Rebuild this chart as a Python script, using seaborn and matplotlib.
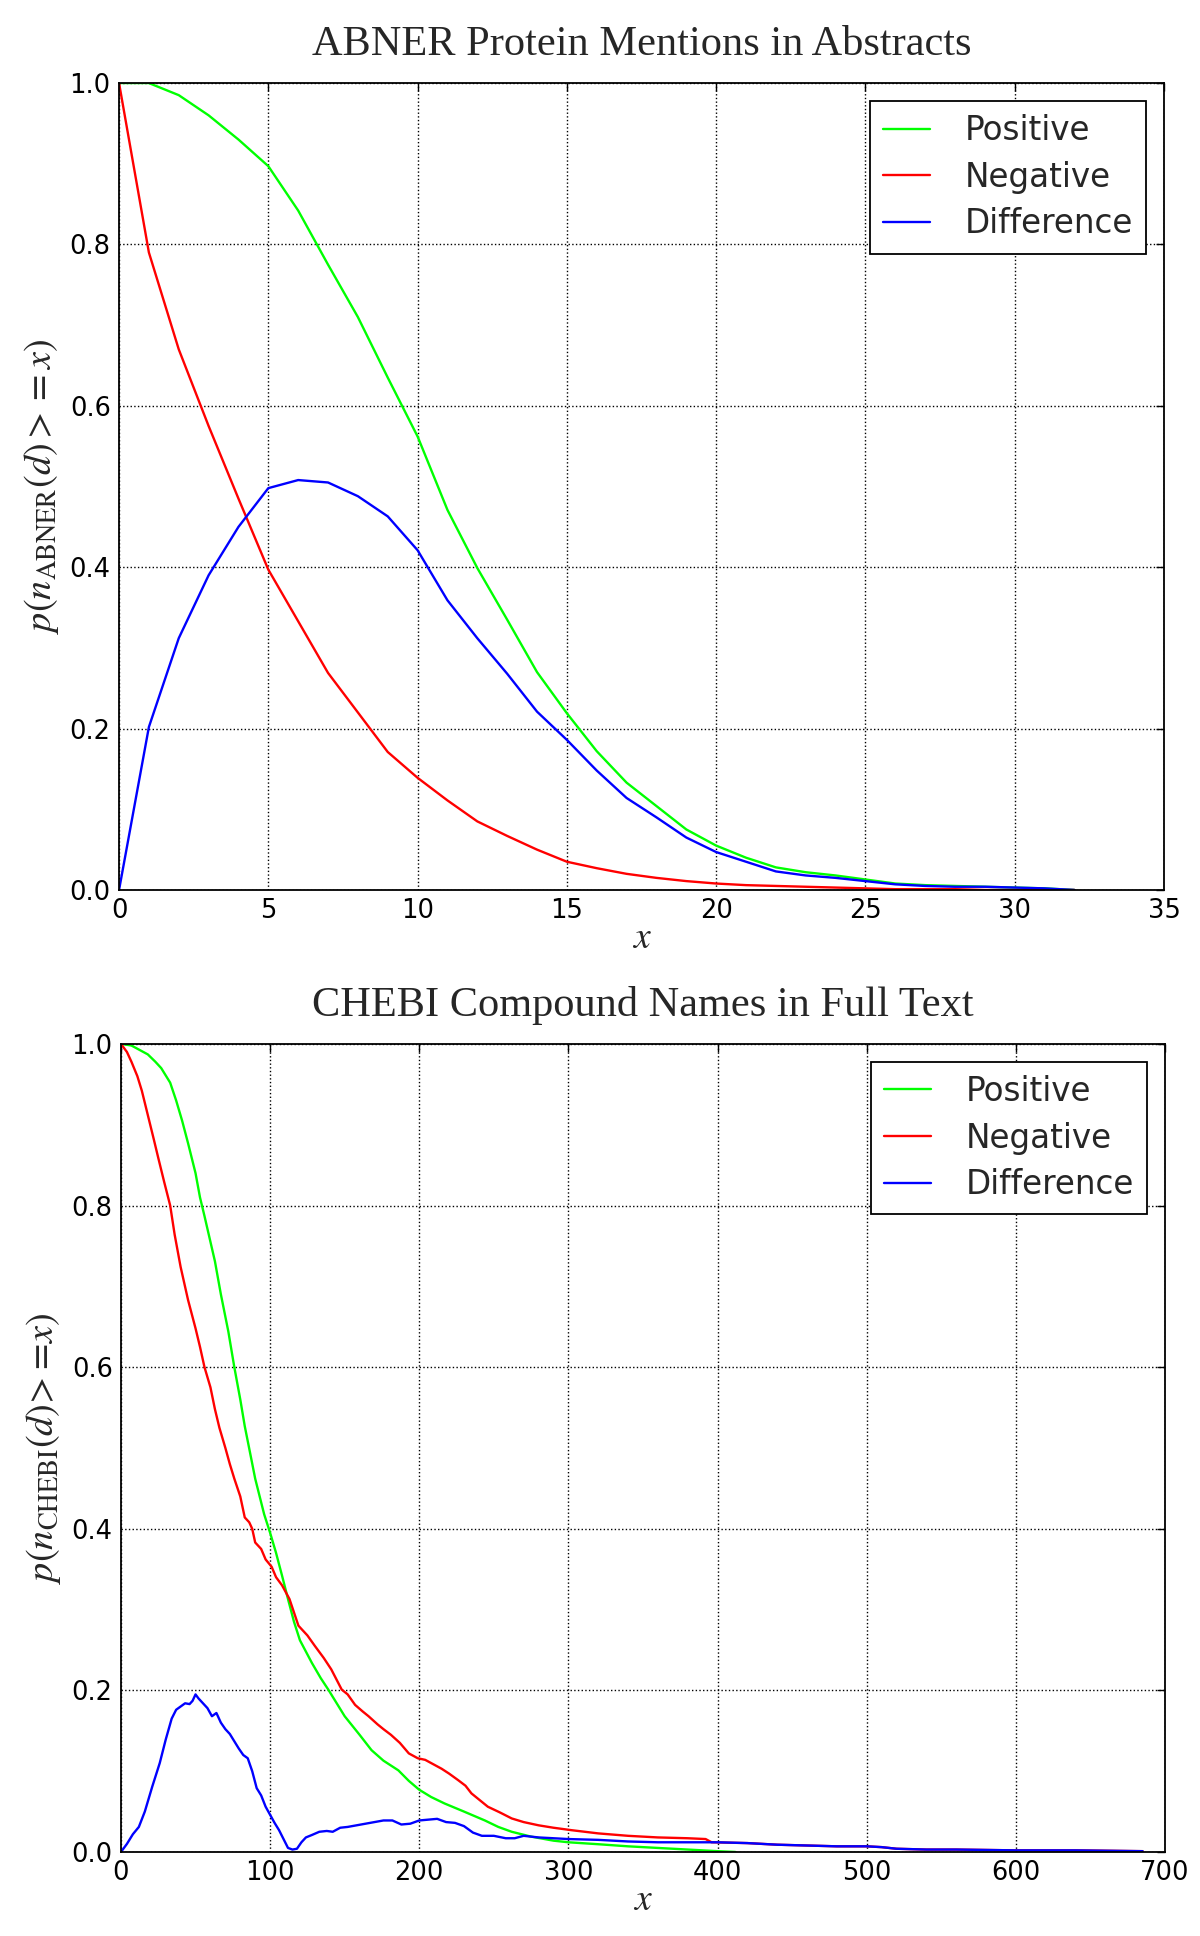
import numpy as np
import pandas as pd
import matplotlib
matplotlib.use("Agg")
import matplotlib.pyplot as plt
import seaborn as sns

# ABNER protein mentions in abstracts (x = count)
abner_x = list(range(0, 33))
abner_pos = [1.0, 1.0, 0.985, 0.96, 0.93, 0.897, 0.842, 0.775, 0.71, 0.635, 0.562,
             0.471, 0.399, 0.335, 0.27, 0.219, 0.172, 0.133, 0.104, 0.075, 0.055,
             0.04, 0.028, 0.022, 0.018, 0.013, 0.008, 0.006, 0.005, 0.004, 0.003,
             0.002, 0.0]
abner_neg = [1.0, 0.79, 0.67, 0.575, 0.485, 0.397, 0.333, 0.269, 0.22, 0.171, 0.139,
             0.111, 0.085, 0.067, 0.05, 0.035, 0.027, 0.02, 0.015, 0.011, 0.008,
             0.006, 0.005, 0.004, 0.003, 0.002, 0.001, 0.001, 0.001, 0.0, 0.0,
             0.0, 0.0]
abner_diff = [0.0, 0.202, 0.312, 0.39, 0.45, 0.498, 0.508, 0.505, 0.488, 0.463, 0.421,
              0.359, 0.312, 0.268, 0.221, 0.186, 0.148, 0.114, 0.09, 0.065, 0.047,
              0.035, 0.023, 0.018, 0.015, 0.011, 0.007, 0.005, 0.004, 0.004, 0.003,
              0.002, 0.0]

# CHEBI compound names in full text
chebi_pos_x = [0, 7, 12, 18, 23, 27, 33, 37, 41, 45, 50, 53, 56, 60, 63, 67, 72, 76, 80,
               83, 87, 90, 93, 96, 100, 104, 108, 112, 116, 120, 124, 128, 134, 139, 145,
               150, 160, 168, 176, 186, 193, 200, 208, 217, 230, 244, 253, 262, 275, 290,
               300, 320, 340, 360, 380, 400, 412]
chebi_pos = [1.0, 0.998, 0.993, 0.987, 0.978, 0.97, 0.952, 0.93, 0.905, 0.877, 0.84,
             0.81, 0.787, 0.755, 0.731, 0.69, 0.644, 0.60, 0.56, 0.527, 0.49, 0.462,
             0.44, 0.418, 0.395, 0.37, 0.342, 0.313, 0.285, 0.262, 0.248, 0.234, 0.215,
             0.201, 0.183, 0.168, 0.145, 0.126, 0.113, 0.101, 0.088, 0.077, 0.068, 0.06,
             0.05, 0.039, 0.031, 0.025, 0.019, 0.014, 0.012, 0.0096, 0.007, 0.005, 0.003,
             0.001, 0.0]

chebi_neg_x = [0, 4, 7, 11, 14, 18, 22, 25, 29, 33, 36, 40, 45, 50, 53, 56, 60, 63, 66,
               70, 73, 76, 80, 83, 86, 88, 90, 94, 97, 101, 104, 108, 113, 119, 125, 130,
               136, 141, 148, 152, 157, 162, 166, 172, 176, 181, 187, 193, 199, 204, 208,
               215, 220, 226, 231, 235, 240, 246, 254, 262, 270, 280, 290, 302, 320, 340,
               360, 380, 392, 396, 420, 440, 460, 480, 500, 510, 520, 540, 560, 600, 640,
               685]
chebi_neg = [1.0, 0.99, 0.978, 0.96, 0.942, 0.912, 0.882, 0.859, 0.829, 0.80, 0.764,
             0.724, 0.683, 0.648, 0.625, 0.60, 0.575, 0.548, 0.525, 0.50, 0.48, 0.462,
             0.44, 0.414, 0.408, 0.40, 0.383, 0.375, 0.362, 0.353, 0.34, 0.33, 0.313,
             0.28, 0.268, 0.255, 0.24, 0.226, 0.201, 0.195, 0.182, 0.174, 0.168, 0.158,
             0.152, 0.145, 0.135, 0.122, 0.116, 0.114, 0.11, 0.103, 0.097, 0.089, 0.082,
             0.0725, 0.065, 0.056, 0.049, 0.0415, 0.037, 0.033, 0.03, 0.027, 0.023, 0.02,
             0.018, 0.017, 0.016, 0.012, 0.011, 0.009, 0.008, 0.007, 0.007, 0.006, 0.004,
             0.003, 0.003, 0.002, 0.002, 0.001]

chebi_diff_x = [0, 4, 8, 12, 16, 21, 26, 30, 34, 37, 40, 43, 46, 48, 50, 52, 55, 58, 61,
                64, 67, 70, 73, 76, 79, 82, 85, 88, 91, 94, 97, 100, 103, 106, 109, 112,
                115, 118, 121, 124, 128, 133, 138, 142, 147, 152, 158, 164, 170, 176, 182,
                188, 194, 200, 206, 212, 218, 224, 230, 236, 242, 250, 258, 264, 270, 280,
                290, 300, 320, 340, 360, 380, 400, 420, 440, 460, 480, 500, 510, 520, 540,
                560, 600, 640, 685]
chebi_diff = [0.0, 0.01, 0.022, 0.031, 0.05, 0.081, 0.11, 0.139, 0.165, 0.176, 0.18,
              0.184, 0.183, 0.187, 0.195, 0.19, 0.184, 0.178, 0.168, 0.172, 0.16, 0.152,
              0.146, 0.137, 0.128, 0.12, 0.116, 0.1, 0.079, 0.07, 0.056, 0.046, 0.036,
              0.027, 0.016, 0.005, 0.003, 0.004, 0.012, 0.018, 0.021, 0.025, 0.026, 0.025,
              0.03, 0.031, 0.033, 0.035, 0.037, 0.039, 0.039, 0.034, 0.035, 0.039, 0.04,
              0.041, 0.037, 0.036, 0.032, 0.024, 0.02, 0.02, 0.017, 0.017, 0.02, 0.018,
              0.017, 0.016, 0.015, 0.013, 0.012, 0.012, 0.012, 0.011, 0.009, 0.008, 0.007,
              0.007, 0.006, 0.004, 0.003, 0.003, 0.002, 0.002, 0.001]

series_names = ["Positive", "Negative", "Difference"]
colors = {"Positive": "#00ff00", "Negative": "#ff0000", "Difference": "#0000ff"}

sns.set_style("white")
plt.rcParams['font.family'] = ['DejaVu Sans']
plt.rcParams['mathtext.fontset'] = 'stix'


def long_df(parts):
    frames = []
    for name, xs, ys in parts:
        frames.append(pd.DataFrame({"x": xs, "p": ys, "series": name}))
    return pd.concat(frames, ignore_index=True)


df_abner = long_df([("Positive", abner_x, abner_pos),
                    ("Negative", abner_x, abner_neg),
                    ("Difference", abner_x, abner_diff)])
df_chebi = long_df([("Positive", chebi_pos_x, chebi_pos),
                    ("Negative", chebi_neg_x, chebi_neg),
                    ("Difference", chebi_diff_x, chebi_diff)])

fig = plt.figure(figsize=(12, 19.36), dpi=100)
ax1 = fig.add_axes([0.0992, 0.5403, 0.8708, 0.4168])
ax2 = fig.add_axes([0.1008, 0.0434, 0.8700, 0.4174])


def style_axes(ax, df, title, ylabel, xmax, xstep):
    sns.lineplot(data=df, x="x", y="p", hue="series", hue_order=series_names,
                 palette=colors, linewidth=1.7, sort=False, ax=ax, estimator=None)
    ax.set_xlim(0, xmax)
    ax.set_ylim(0, 1.0)
    ax.set_xticks(np.arange(0, xmax + 1, xstep))
    ax.set_yticks(np.arange(0, 1.01, 0.2))
    ax.set_yticklabels([f"{v:.1f}" for v in np.arange(0, 1.01, 0.2)])
    ax.grid(True, linestyle=':', color='black', linewidth=1.0)
    ax.tick_params(direction='in', top=True, right=True, length=6, width=1,
                   labelsize=18.5, pad=6, colors='black')
    for s in ax.spines.values():
        s.set_color('black')
        s.set_linewidth(1.3)
    ax.set_title(title, family='Liberation Serif', fontsize=30.5, pad=20)
    ax.set_xlabel('$x$', fontsize=27, labelpad=-3)
    ax.set_ylabel(ylabel, fontsize=27.5, labelpad=6)
    leg = ax.legend(loc='upper right', fontsize=23.5, frameon=True, fancybox=False,
                    edgecolor='black', handlelength=1.45, handletextpad=1.05,
                    borderpad=0.4, labelspacing=0.42, borderaxespad=0.55)
    leg.get_frame().set_linewidth(1.3)
    leg.get_frame().set_alpha(1.0)
    for h in leg.get_lines():
        h.set_linewidth(1.7)


style_axes(ax1, df_abner, "ABNER Protein Mentions in Abstracts",
           r'$p(n_{\mathrm{ABNER}}(d) >= x)$', 35, 5)
style_axes(ax2, df_chebi, "CHEBI Compound Names in Full Text",
           r'$p(n_{\mathrm{CHEBI}}(d)\!>\!=\!x)$', 700, 100)

fig.savefig("out.png", dpi=100, facecolor='white')
